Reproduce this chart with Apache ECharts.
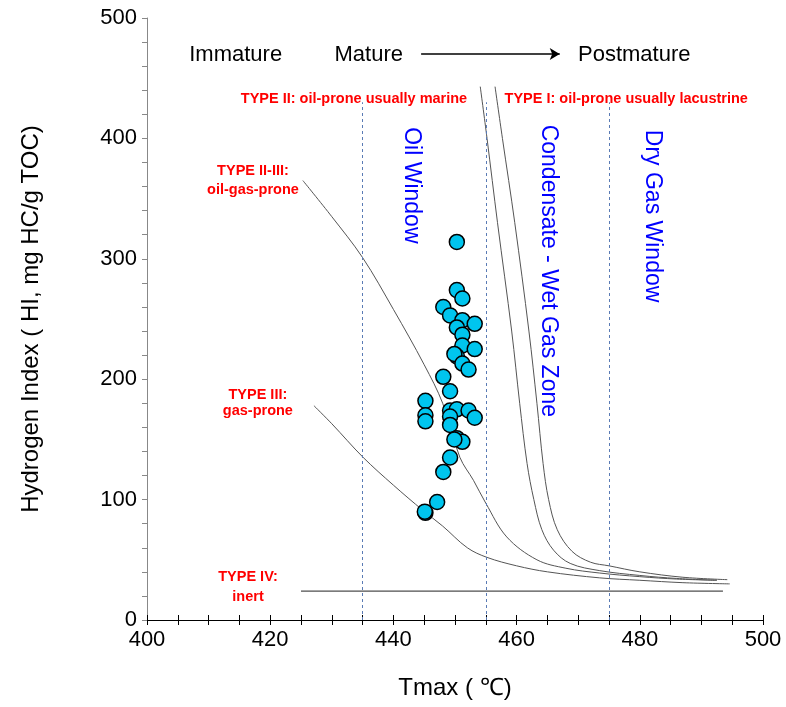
<!DOCTYPE html>
<html><head><meta charset="utf-8">
<script src="https://cdn.jsdelivr.net/npm/echarts@6/dist/echarts.min.js"></script>
<style>html,body{margin:0;padding:0;background:#fff}#c{width:786px;height:707px}</style>
</head><body><div id="c"></div>
<script>
// ---- data ----
const sampleTmax = [450.3,450.3,451.2,448.1,449.2,451.2,453.2,450.3,451.2,451.2,453.2,450.3,449.9,451.2,452.2,448.1,449.2,445.2,445.2,445.2,449.2,450.3,452.2,453.2,449.2,449.2,450.3,451.2,449.9,449.2,448.1,447.1,445.2,445.1];
const sampleHI   = [314,274,267,260,253,249,246,243,237,228,225,219,221,213,208,202,190,182,170,165,174,175,174,168,169,162,151,148,150,135,123,98,89,90];

const typeI_T   = [456.5,457.7,459.7,462.0,463.3,464.3,465.2,466.6,469.0,472.0,475.0,480.0,487.0,494.2];
const typeI_HI  = [443,400,330,240,180,130,100,75,57,48,45,40,35.5,33.5];
const typeII_T  = [454.1,455.2,456.9,459.2,460.5,461.7,462.8,464.1,466.0,468.7,473.5,480.0,486.0,492.5];
const typeII_HI = [443,400,330,240,180,130,100,75,58,47,41,37,34.5,33];
const typeIIIII_T  = [425.3,430,435,440,445,448,450.8,453,455,458.4,463.3,468,473.5,480,486,492.5];
const typeIIIII_HI = [365,335,301,258,212,180,135,116,97,69,50,43,39,36,34,33];
const typeIII_T  = [427.1,430,435.1,440,444.8,448,452,455.2,460,465,473.5,480,487,494.6];
const typeIII_HI = [178,163,135,112,91,78,60,52,45,40,35,33,31,30];
const typeIV_T  = [425,493.5];
const typeIV_HI = [24,24];

const windowT = [435,455,475];
const windowTop = 430;

const xTicks = [400,420,440,460,480,500];
const yTicks = [0,100,200,300,400,500];

// ---- chart ----
const zip = (a,b)=>a.map((v,i)=>[v,b[i]]);
const chart = echarts.init(document.getElementById('c'));
const font = 'Liberation Sans, Arial, sans-serif';
const curveStyle = {color:'#555', width:1};
const curve = (T,H)=>({type:'line', data:zip(T,H), smooth:0.35, showSymbol:false, symbol:'none', lineStyle:curveStyle, z:2, silent:true});

const xBase = {type:'value', min:xTicks[0], max:xTicks[xTicks.length-1], interval:20, splitLine:{show:false}};

chart.setOption({
  animation:false,
  backgroundColor:'#fff',
  grid:{left:147, right:23, top:18, bottom:87, containLabel:false},
  xAxis:[Object.assign({}, xBase, {
    name:'Tmax ( \u2103)', nameLocation:'middle', nameGap:56,
    nameTextStyle:{fontFamily:font, fontSize:24, color:'#000'},
    axisLine:{lineStyle:{color:'#000', width:1}},
    axisTick:{length:5, lineStyle:{color:'#000'}},
    minorTick:{show:true, splitNumber:4, length:5, lineStyle:{color:'#000'}},
    axisLabel:{fontFamily:font, fontSize:22, color:'#000', margin:9}}),
    Object.assign({}, xBase, {position:'bottom', offset:0,
    axisLine:{show:false},
    axisTick:{inside:true, length:5, lineStyle:{color:'#000'}},
    minorTick:{show:true, splitNumber:4, length:5, lineStyle:{color:'#000'}},
    axisLabel:{show:false}})],
  yAxis:{type:'value', min:yTicks[0], max:yTicks[yTicks.length-1], interval:100,
    name:'Hydrogen Index ( HI, mg HC/g TOC)', nameLocation:'middle', nameGap:104,
    nameTextStyle:{fontFamily:font, fontSize:24, color:'#000'},
    axisLine:{lineStyle:{color:'#888', width:1}},
    axisTick:{length:5, lineStyle:{color:'#888'}},
    minorTick:{show:true, splitNumber:5, length:5, lineStyle:{color:'#888'}},
    axisLabel:{fontFamily:font, fontSize:22, color:'#000', margin:10},
    splitLine:{show:false}},
  series:[
    curve(typeI_T,typeI_HI),
    curve(typeII_T,typeII_HI),
    curve(typeIIIII_T,typeIIIII_HI),
    curve(typeIII_T,typeIII_HI),
    {type:'line', data:zip(typeIV_T,typeIV_HI), showSymbol:false, symbol:'none', lineStyle:{color:'#222',width:1}, z:2,
      markLine:{silent:true, symbol:['none','none'], label:{show:false},
        lineStyle:{color:'#5a7bb5', type:[3,3], width:1},
        data: windowT.map(t=>[{coord:[t,0]},{coord:[t,windowTop]}]).concat([
          [{coord:[444.5,470], symbol:'none', lineStyle:{color:'#000', type:'solid', width:1.5}},
           {coord:[467,470], symbol:'arrow', symbolSize:[9,10], lineStyle:{color:'#000', type:'solid', width:1.5}}]
        ])}},
    {type:'scatter', data:zip(sampleTmax,sampleHI), symbol:'circle', symbolSize:15,
      itemStyle:{color:'#00C5EE', borderColor:'#000', borderWidth:1.5, opacity:1}, z:5}
  ]
});

// annotations placed in data coordinates
const notes = [
  {t:'Immature', x:414.4, y:469.3, size:22, color:'#000', bold:false},
  {t:'Mature', x:436.0, y:469.3, size:22, color:'#000', bold:false},
  {t:'Postmature', x:479.1, y:469.3, size:22, color:'#000', bold:false},
  {t:'TYPE II: oil-prone usually marine', x:433.6, y:432.7, size:14.5, color:'#f00', bold:true},
  {t:'TYPE I: oil-prone usually lacustrine', x:477.8, y:432.7, size:14.5, color:'#f00', bold:true},
  {t:'TYPE II-III:', x:417.2, y:372.9, size:14.5, color:'#f00', bold:true},
  {t:'oil-gas-prone', x:417.2, y:357.1, size:14.5, color:'#f00', bold:true},
  {t:'TYPE III:', x:418.0, y:186.9, size:14.5, color:'#f00', bold:true},
  {t:'gas-prone', x:418.0, y:173.6, size:14.5, color:'#f00', bold:true},
  {t:'TYPE IV:', x:416.4, y:35.7, size:14.5, color:'#f00', bold:true},
  {t:'inert', x:416.4, y:19.1, size:14.5, color:'#f00', bold:true},
  {t:'Oil Window', x:442.9, y:361, size:23, color:'#0000ff', bold:false, rot:true},
  {t:'Condensate - Wet Gas Zone', x:465.1, y:290, size:23, color:'#0000ff', bold:false, rot:true},
  {t:'Dry Gas Window', x:482, y:335.5, size:23, color:'#0000ff', bold:false, rot:true}
];
const graphics = notes.map(n=>{
  const p = chart.convertToPixel({gridIndex:0},[n.x,n.y]);
  return {type:'text', x:p[0], y:p[1], rotation: n.rot ? -Math.PI/2 : 0, z:10,
    style:{text:n.t, fill:n.color, font:(n.bold?'bold ':'')+n.size+'px '+font, textAlign:'center', textVerticalAlign:'middle'}};
});
chart.setOption({graphic:graphics});
</script>
</body></html>
